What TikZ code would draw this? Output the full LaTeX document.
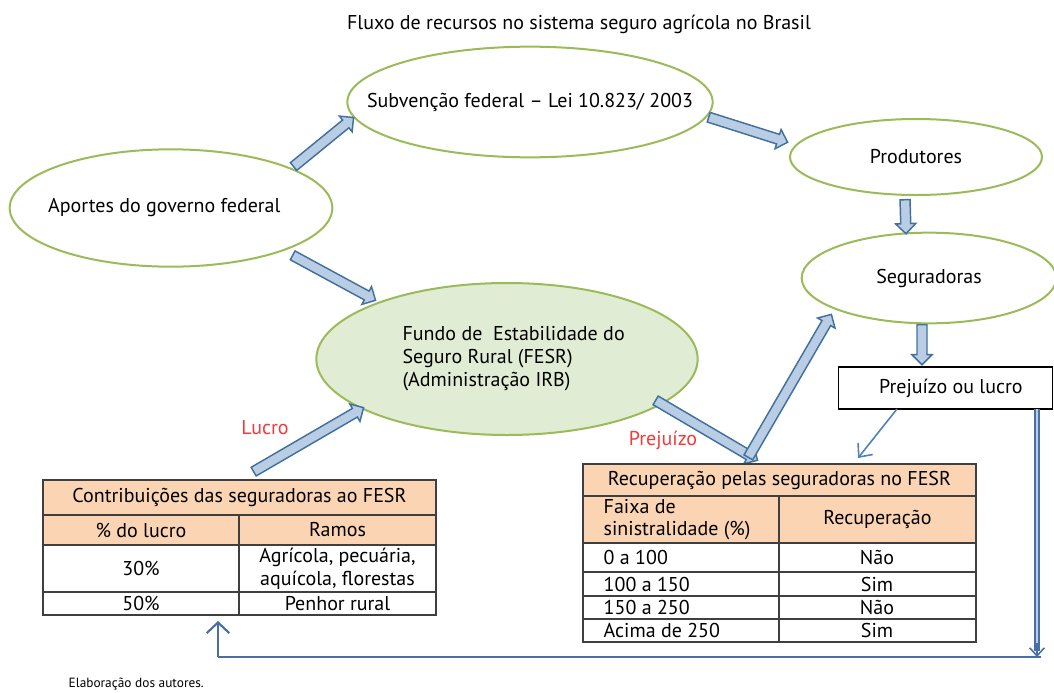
\documentclass[tikz,border=0pt]{standalone}
\usepackage{fontspec}
\setmainfont{PT Sans}
\usetikzlibrary{shapes.geometric,shapes.arrows,calc,arrows.meta}
\definecolor{elgreen}{HTML}{9BBB59}
\definecolor{fesrfill}{HTML}{E1ECD4}
\definecolor{arrfill}{HTML}{B9CDE5}
\definecolor{arrdraw}{HTML}{41719C}
\definecolor{tabhead}{HTML}{FBD4B4}
\definecolor{tabline}{HTML}{3F3F3F}
\definecolor{lblred}{HTML}{F23A3A}
\definecolor{connblue}{HTML}{4A6FA5}
\definecolor{thinblue}{HTML}{4F81BD}
\tikzset{
  elbox/.style={ellipse, draw=elgreen, line width=1.5pt, inner sep=0pt},
  blockarrow/.style={single arrow, draw=arrdraw, fill=arrfill, line width=1.1pt,
    inner xsep=0pt, inner ysep=3.2pt, single arrow head extend=3.8pt, single arrow tip angle=90},
  tabcell/.style={draw=tabline, line width=1pt},
  redlbl/.style={text=lblred},
  conn/.style={draw=connblue, line width=1.6pt},
  vline/.style={draw=connblue, line width=1.1pt, double=arrfill, double distance=1.8pt}
}
\newcommand{\fatarrow}[2]{%
  \path let \p1=(#1), \p2=(#2), \n1={atan2(\y2-\y1,\x2-\x1)}, \n2={veclen(\x2-\x1,\y2-\y1)} in
    node[blockarrow, minimum height=\n2, rotate=\n1, anchor=tail] at (\p1) {};}
\begin{document}
\begin{tikzpicture}[x=0.75pt, y=-0.75pt, font=\fontsize{15}{17}\selectfont]
\useasboundingbox (0,0) rectangle (1054,693);
\node (title) at (579,24) {Fluxo de recursos no sistema seguro agrícola no Brasil};
\node[elbox, minimum width=242pt, minimum height=88pt] (apo) at (171,208) {\makebox[0pt]{\hspace*{-10pt}Aportes do governo federal}};
\node[elbox, minimum width=274pt, minimum height=83pt] (sub) at (530,102) {\makebox[0pt]{Subvenção federal -- Lei 10.823/ 2003}};
\node[elbox, minimum width=189pt, minimum height=57pt] (prod) at (916,157) {Produtores};
\node[elbox, minimum width=191pt, minimum height=68pt] (seg) at (929,278) {Seguradoras};
\node[elbox, fill=fesrfill, minimum width=286pt, minimum height=114pt] (fesr) at (507,359)
  {\makebox[0pt]{\begin{tabular}{@{\hspace{10pt}}l@{}}Fundo de\ \ Estabilidade do\\Seguro Rural (FESR)\\(Administração IRB)\end{tabular}}};
\node[draw, line width=0.8pt, minimum width=161pt, minimum height=31.5pt] (pl) at (945.5,388) {\hspace*{8pt}Prejuízo ou lucro};
\node[redlbl] (lucro) at (265,428) {Lucro};
\node[redlbl] (prej) at (663,440) {Prejuízo};

\coordinate (apoSubT) at (293,167);
\coordinate (apoSubH) at (353,118);
\coordinate (subProdT) at (708,117);
\coordinate (subProdH) at (787,142);
\coordinate (prodSegT) at (905,199);
\coordinate (prodSegH) at (906,233);
\coordinate (segPlT) at (922,324);
\coordinate (segPlH) at (922,364);
\coordinate (apoFesrT) at (292,255);
\coordinate (apoFesrH) at (375,300);
\coordinate (ctFesrT) at (253,472);
\coordinate (ctFesrH) at (363,408);
\coordinate (fesrRtT) at (655,400);
\coordinate (fesrRtH) at (757,460);
\coordinate (rtSegT) at (748,458);
\coordinate (rtSegH) at (831,315);
\fatarrow{apoSubT}{apoSubH}
\fatarrow{subProdT}{subProdH}
\fatarrow{prodSegT}{prodSegH}
\fatarrow{segPlT}{segPlH}
\fatarrow{apoFesrT}{apoFesrH}
\fatarrow{ctFesrT}{ctFesrH}
\fatarrow{fesrRtT}{fesrRtH}
\fatarrow{rtSegT}{rtSegH}

\draw[tabcell, fill=tabhead] (43,480) rectangle (436,515) node[midway] (ctTitle) {Contribuições das seguradoras ao FESR};
\draw[tabcell, fill=tabhead] (43,515) rectangle (239,545) node[midway] (ctHa) {\% do lucro};
\draw[tabcell, fill=tabhead] (239,515) rectangle (436,545) node[midway] (ctHb) {Ramos};
\draw[tabcell] (43,545) rectangle (239,592) node[midway] (ctAa) {30\%};
\draw[tabcell] (239,545) rectangle (436,592) node[midway, align=center] (ctAb) {Agrícola, pecuária,\\aquícola, florestas};
\draw[tabcell] (43,592) rectangle (239,615) node[midway] (ctBa) {50\%};
\draw[tabcell] (239,592) rectangle (436,615) node[midway] (ctBb) {Penhor rural};

\draw[tabcell, fill=tabhead] (583,464) rectangle (976,496) node[midway] (rtTitle) {Recuperação pelas seguradoras no FESR};
\draw[tabcell, fill=tabhead] (583,496) rectangle (779,543);
\node[anchor=west, align=left] (rtHa) at (599,519.5) {Faixa de\\sinistralidade (\%)};
\draw[tabcell, fill=tabhead] (779,496) rectangle (976,543) node[midway] (rtHb) {Recuperação};
\foreach \ya/\yb/\fx/\rc [count=\i] in {543/572/0 a 100/Não, 572/596/100 a 150/Sim, 596/619/150 a 250/Não, 619/642/Acima de 250/Sim} {
  \draw[tabcell] (583,\ya) rectangle (779,\yb);
  \draw[tabcell] (779,\ya) rectangle (976,\yb);
  \node[anchor=west] (rtA\i) at (599,{(\ya+\yb)/2}) {\fx};
  \node (rtB\i) at (877,{(\ya+\yb)/2}) {\rc};
}

\coordinate (plOut) at (1037,409);
\coordinate (cornR) at (1037,657);
\coordinate (cornL) at (218,657);
\coordinate (ctIn) at (218,621);
\draw[vline] (plOut) -- ($(cornR)+(0,-6)$);
\draw[draw=connblue, line width=1.2pt, -{Straight Barb[length=6pt, width=11pt]}] ($(cornR)+(0,-14)$) -- (cornR);
\draw[conn] ($(cornR)+(4,0)$) -- (cornL);
\draw[conn, -{Straight Barb[length=8pt, width=17pt]}] (cornL) -- (ctIn);
\draw[draw=thinblue, line width=1.2pt, -{Straight Barb[length=8pt, width=14pt]}] (897,409) -- (858,458);

\node[anchor=west, font=\fontsize{10}{11}\selectfont] (src) at (64,684) {Elaboração dos autores.};
\end{tikzpicture}
\end{document}
